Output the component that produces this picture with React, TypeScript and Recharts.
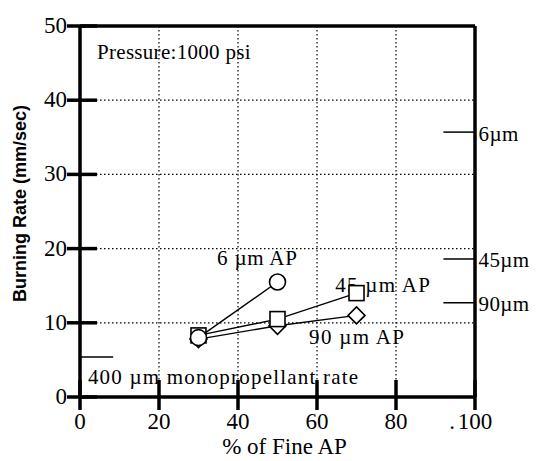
import {
  ComposedChart,
  Scatter,
  XAxis,
  YAxis,
  CartesianGrid,
  ReferenceLine,
  ReferenceDot,
  Label,
} from "recharts";

const xTicks = [0, 20, 40, 60, 80, 100];
const yTicks = [0, 10, 20, 30, 40, 50];
const xTickLabels = ["0", "20", "40", "60", "80", "100"];

// burning rate (mm/sec) vs % of fine AP
const ap6 = [
  { x: 30, y: 8.0 },
  { x: 50, y: 15.5 },
];
const ap45 = [
  { x: 30, y: 8.3 },
  { x: 50, y: 10.5 },
  { x: 70, y: 14.0 },
];
const ap90 = [
  { x: 30, y: 7.8 },
  { x: 50, y: 9.6 },
  { x: 70, y: 11.0 },
];

// monopropellant rates marked on the frame
const monoRates = [
  { label: "6\u00b5m", y: 35.7 },
  { label: "45\u00b5m", y: 18.6 },
  { label: "90\u00b5m", y: 12.7 },
];
const mono400 = { label: "400 \u00b5m  monopropellant rate", y: 5.4 };

const notes = [
  { text: "Pressure:1000 psi", x: 4.3, y: 46.5, spacing: 0.3 },
  { text: "6 \u00b5m AP", x: 34.7, y: 18.7, spacing: 0.8 },
  { text: "45 \u00b5m AP", x: 64.6, y: 15.1, spacing: 1.3 },
  { text: "90 \u00b5m AP", x: 58, y: 8.1, spacing: 1.3 },
  { text: mono400.label, x: 2.0, y: 2.7, spacing: 1.2 },
];

const serif = "'Liberation Serif', 'Times New Roman', serif";
const sans = "'Liberation Sans', Arial, sans-serif";
const serifStyle = { fontFamily: serif };

const BottomTick = (props: any) => {
  const { x, y, payload } = props;
  const label = xTickLabels[xTicks.indexOf(payload.value)];
  return (
    <g>
      <line x1={x} x2={x} y1={y - 17} y2={y + 13} stroke="#000" strokeWidth={3.5} />
      {payload.value === 100 && (
        <text x={x - 20} y={y + 32} textAnchor="end" style={serifStyle} fontSize={23}>
          .
        </text>
      )}
      <text x={x} y={y + 32} textAnchor="middle" style={serifStyle} fontSize={23}>
        {label}
      </text>
    </g>
  );
};

const TopTick = (props: any) => {
  const { x, y } = props;
  return <line x1={x} x2={x} y1={y - 16} y2={y + 17} stroke="#000" strokeWidth={3.5} />;
};

const LeftTick = (props: any) => {
  const { x, y, payload } = props;
  return (
    <g>
      <line x1={x - 13} x2={x + 17} y1={y} y2={y} stroke="#000" strokeWidth={3.5} />
      <text x={x - 13} y={y + 7} textAnchor="end" style={serifStyle} fontSize={23}>
        {payload.value}
      </text>
    </g>
  );
};

const RightTick = (props: any) => {
  const { x, y } = props;
  return <line x1={x - 15} x2={x + 18} y1={y} y2={y} stroke="#000" strokeWidth={3.5} />;
};

const OpenCircle = (props: any) => (
  <circle cx={props.cx} cy={props.cy} r={8} fill="#fff" stroke="#000" strokeWidth={1.6} />
);
const OpenSquare = (props: any) => (
  <rect x={props.cx - 7.5} y={props.cy - 7.5} width={15} height={15} fill="#fff" stroke="#000" strokeWidth={1.6} />
);
const OpenDiamond = (props: any) => (
  <path
    d={`M${props.cx},${props.cy - 8.5}L${props.cx + 8.5},${props.cy}L${props.cx},${props.cy + 8.5}L${props.cx - 8.5},${props.cy}Z`}
    fill="#fff"
    stroke="#000"
    strokeWidth={1.6}
  />
);

const noteLabel = (text: string, size: number, spacing = 0) => (props: any) => {
  const vb = props.viewBox;
  return (
    <text
      x={vb.x + vb.width / 2}
      y={vb.y + vb.height / 2}
      dominantBaseline="central"
      style={serifStyle}
      fontSize={size}
      letterSpacing={spacing}
    >
      {text}
    </text>
  );
};

export default function App() {
  return (
    <div style={{ position: "absolute", left: 0, top: 0, background: "#fff" }}>
      <ComposedChart width={540} height={461} margin={{ top: 16, right: 55, bottom: 24, left: 30 }}>
        <CartesianGrid stroke="#000" strokeWidth={1.2} strokeDasharray="1.5 2.5" />
        <XAxis
          type="number"
          dataKey="x"
          domain={[0, 100]}
          ticks={xTicks}
          height={40}
          axisLine={{ stroke: "#000", strokeWidth: 3.5 }}
          tickLine={false}
          tickSize={0}
          tickMargin={0}
          tick={<BottomTick />}
        >
          <Label
            content={(p: any) => (
              <text
                x={p.viewBox.x + p.viewBox.width / 2 + 7}
                y={454}
                textAnchor="middle"
                style={serifStyle}
                fontSize={23}
              >
                % of Fine AP
              </text>
            )}
          />
        </XAxis>
        <XAxis
          xAxisId="top"
          orientation="top"
          type="number"
          domain={[0, 100]}
          ticks={xTicks}
          height={10}
          axisLine={{ stroke: "#000", strokeWidth: 3.5 }}
          tickLine={false}
          tickSize={0}
          tickMargin={0}
          tick={<TopTick />}
        />
        <YAxis
          type="number"
          dataKey="y"
          domain={[0, 50]}
          ticks={yTicks}
          width={50}
          axisLine={{ stroke: "#000", strokeWidth: 3.5 }}
          tickLine={false}
          tickSize={0}
          tickMargin={0}
          tick={<LeftTick />}
        >
          <Label
            content={(p: any) => {
              const cx = 20;
              const cy = p.viewBox.y + p.viewBox.height / 2 - 8;
              return (
                <text
                  x={cx}
                  y={cy}
                  transform={`rotate(-90 ${cx} ${cy})`}
                  textAnchor="middle"
                  dominantBaseline="central"
                  style={{ fontFamily: sans }}
                  fontWeight="bold"
                  fontSize={18}
                >
                  Burning Rate (mm/sec)
                </text>
              );
            }}
          />
        </YAxis>
        <YAxis
          yAxisId="right"
          orientation="right"
          type="number"
          domain={[0, 50]}
          ticks={yTicks}
          width={10}
          axisLine={{ stroke: "#000", strokeWidth: 3.5 }}
          tickLine={false}
          tickSize={0}
          tickMargin={0}
          tick={<RightTick />}
        />

        {monoRates.map((m) => (
          <ReferenceLine
            key={m.label}
            segment={[
              { x: 92, y: m.y },
              { x: 100, y: m.y },
            ]}
            stroke="#000"
            strokeWidth={1.5}
            ifOverflow="visible"
          />
        ))}
        {monoRates.map((m) => (
          <ReferenceDot
            key={"t" + m.label}
            x={100.9}
            y={m.y - 0.2}
            r={1}
            fill="none"
            stroke="none"
            ifOverflow="visible"
            label={noteLabel(m.label, 21, 0.4)}
          />
        ))}
        <ReferenceLine
          segment={[
            { x: 0, y: mono400.y },
            { x: 8.4, y: mono400.y },
          ]}
          stroke="#000"
          strokeWidth={1.5}
          ifOverflow="visible"
        />
        {notes.map((n) => (
          <ReferenceDot
            key={n.text}
            x={n.x}
            y={n.y}
            r={1}
            fill="none"
            stroke="none"
            ifOverflow="visible"
            label={noteLabel(n.text, 21, n.spacing)}
          />
        ))}

        <Scatter data={ap90} line={{ stroke: "#000", strokeWidth: 1.4 }} shape={<OpenDiamond />} isAnimationActive={false} />
        <Scatter data={ap45} line={{ stroke: "#000", strokeWidth: 1.4 }} shape={<OpenSquare />} isAnimationActive={false} />
        <Scatter data={ap6} line={{ stroke: "#000", strokeWidth: 1.4 }} shape={<OpenCircle />} isAnimationActive={false} />
      </ComposedChart>
    </div>
  );
}
